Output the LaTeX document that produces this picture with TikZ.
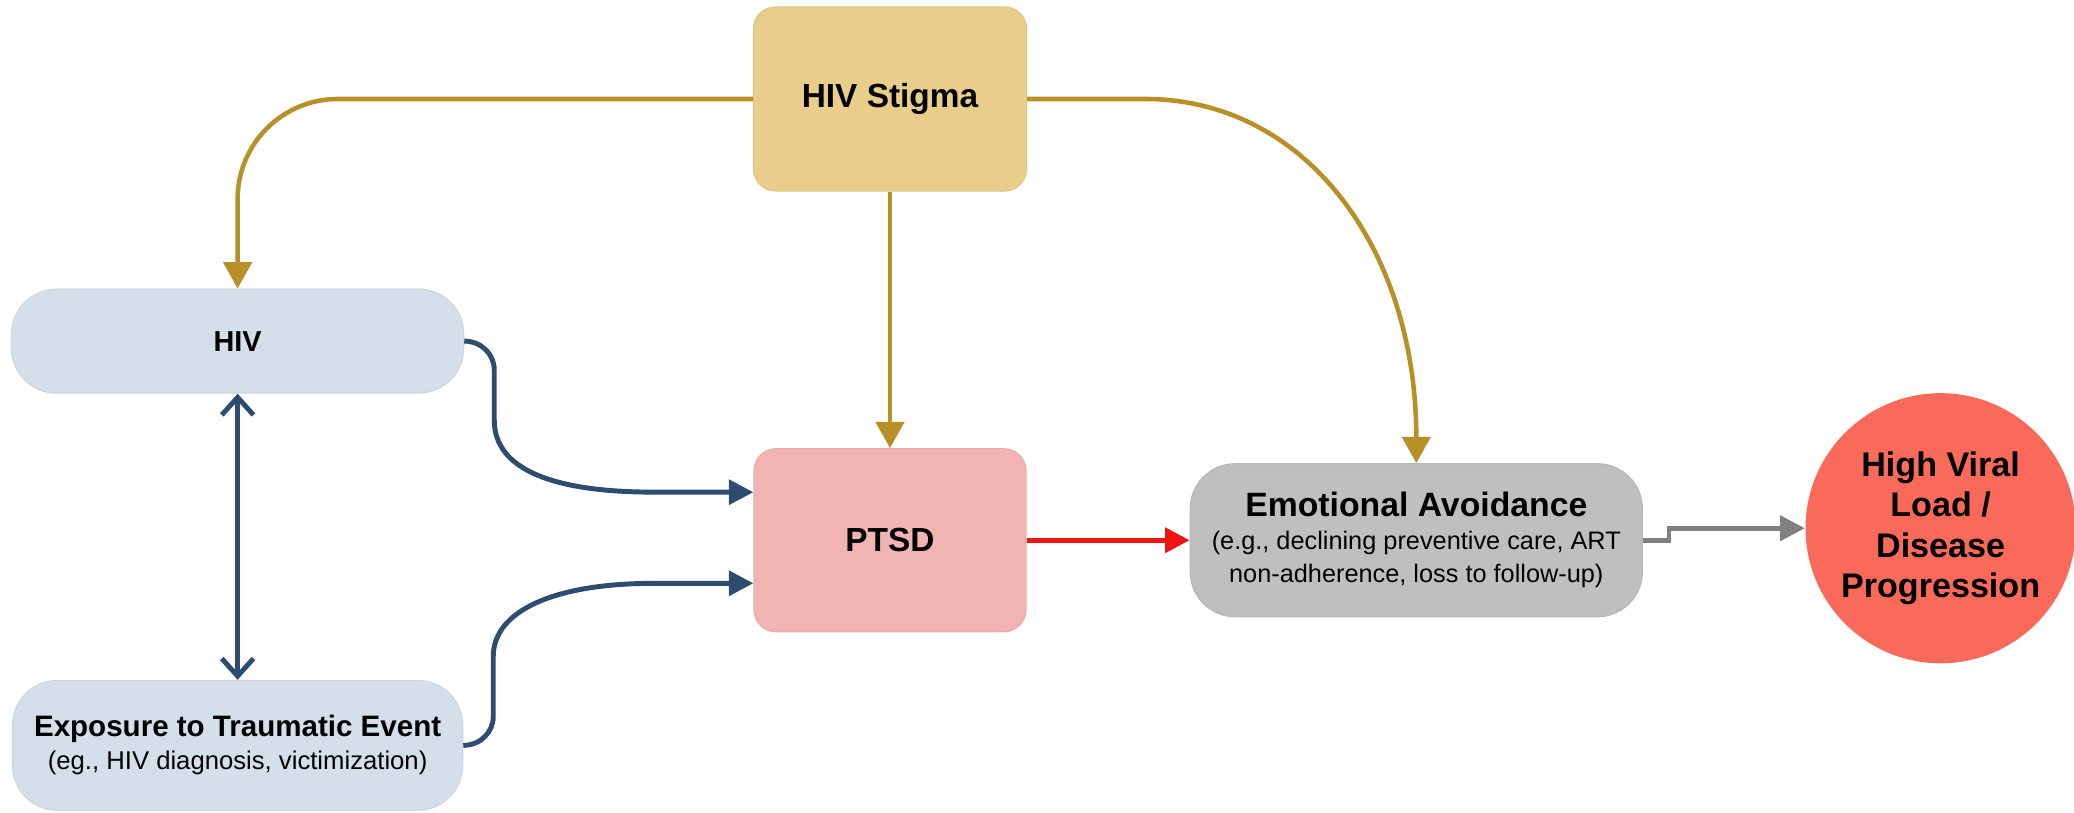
\documentclass[tikz,border=0pt]{standalone}
\usepackage{fontspec}
\setmainfont{Liberation Sans}
\usepackage{tikz}
\usetikzlibrary{positioning, arrows.meta}

\definecolor{stigmafill}{RGB}{232,206,138}
\definecolor{hivfill}{RGB}{212,223,234}
\definecolor{ptsdfill}{RGB}{242,179,179}
\definecolor{avoidfill}{RGB}{191,191,191}
\definecolor{viralfill}{RGB}{250,106,90}
\definecolor{goldline}{RGB}{184,144,40}
\definecolor{blueline}{RGB}{44,77,112}
\definecolor{redline}{RGB}{238,20,20}
\definecolor{grayline}{RGB}{128,128,128}

\begin{document}
\begin{tikzpicture}[x=0.01cm, y=-0.01cm, on grid]
        \tikzset{box/.style = {rectangle, rounded corners=0.22cm, fill=#1, draw=#1!96!black,
                line width=0.3pt, inner sep=0pt, align=center}}
        \tikzset{pill/.style = {box=#1, rounded corners=0.45cm}}
        \tikzset{title/.style = {font=\bfseries\fontsize{9.5}{11}\selectfont}}
        \tikzset{EdgeArrow/.style = {-{Triangle[length=7pt, width=7pt]}, line width=1.3pt}}
        \tikzset{goldedge/.style = {EdgeArrow, -{Triangle[length=7.5pt, width=8pt]}, color=goldline}}
        \tikzset{blueedge/.style = {EdgeArrow, color=blueline, line width=1.4pt}}
        \tikzset{rededge/.style = {EdgeArrow, color=redline, line width=1.4pt}}
        \tikzset{grayedge/.style = {EdgeArrow, color=grayline, line width=1.4pt}}
        \useasboundingbox (0,0) rectangle (2074,813);

        \node[box=stigmafill, title, minimum width=2.73cm, minimum height=1.84cm] (stigma) at (890,99) {HIV Stigma};
        \node[box=ptsdfill, title, minimum width=2.72cm, minimum height=1.83cm, below=4.41cm of stigma] (ptsd) {PTSD};
        \node[pill=avoidfill, minimum width=4.52cm, minimum height=1.53cm, right=5.26cm of ptsd,
              font=\fontsize{7.2}{9.4}\selectfont] (avoid)
              {{\bfseries\fontsize{9.6}{9.4}\selectfont Emotional Avoidance}\\
               (e.g., declining preventive care, ART\\non-adherence, loss to follow-up)};
        \node[circle, fill=viralfill, minimum size=2.7cm, inner sep=0pt, align=center,
              font=\bfseries\fontsize{9.7}{11.4}\selectfont, above right=0.12cm and 5.24cm of avoid] (viral)
              {High Viral\\Load /\\Disease\\Progression};
        \node[pill=hivfill, minimum width=4.52cm, minimum height=1.04cm, above left=1.99cm and 6.52cm of ptsd,
              font=\bfseries\fontsize{8.2}{10}\selectfont] (hiv) {HIV};
        \node[pill=hivfill, minimum width=4.5cm, minimum height=1.3cm, below=4.04cm of hiv,
              font=\fontsize{7.3}{9.4}\selectfont] (trauma)
              {{\bfseries\fontsize{8.4}{9.4}\selectfont Exposure to Traumatic Event}\\(eg., HIV diagnosis, victimization)};

        % stigma arrows
        \draw[goldedge, rounded corners=1cm] (stigma.west) -| (hiv.north);
        \draw[goldedge] (stigma.south) -- (ptsd.north);
        \draw[goldedge] (stigma.east) -- ++(118,0) .. controls +(160,0) and +(0,-215) .. (avoid.north);

        % into PTSD
        \draw[blueedge] (hiv.east) .. controls +(17,0) and +(0,-16) .. ++(30,29) -- ++(0,50)
              .. controls +(0,50) and +(-100,0) .. ++(160,72) -- ([yshift=0.48cm]ptsd.west);
        \draw[blueedge] (trauma.east) .. controls +(17,0) and +(0,16) .. ++(30,-29) -- ++(0,-60)
              .. controls +(0,-45) and +(-100,0) .. ++(160,-73) -- ([yshift=-0.43cm]ptsd.west);
        \draw[blueedge, {Straight Barb[length=5pt, width=9pt]}-{Straight Barb[length=5pt, width=9pt]}]
              (hiv.south) -- (trauma.north);

        \draw[rededge] (ptsd.east) -- (avoid.west);
        \draw[grayedge] (avoid.east) -- ++(26,0) |- (viral.west);
\end{tikzpicture}
\end{document}
